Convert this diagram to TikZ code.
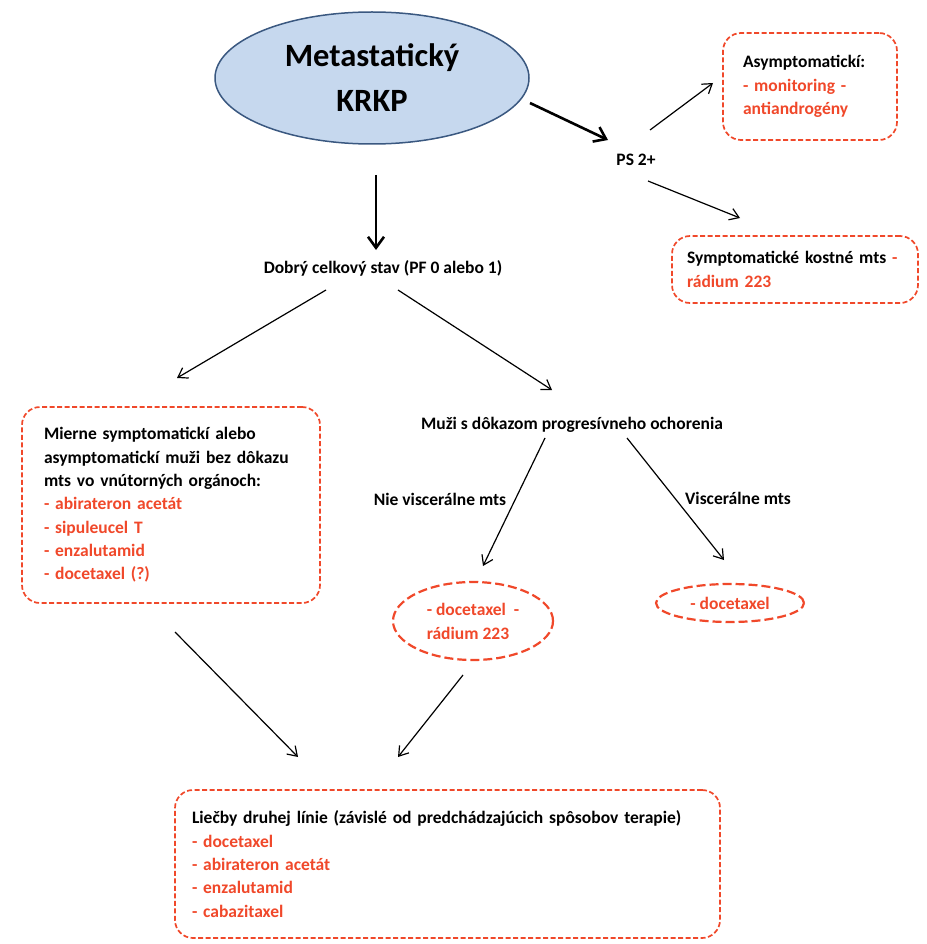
\documentclass[tikz,border=0pt]{standalone}
\usepackage{fontspec}
\setmainfont{Carlito}
\usetikzlibrary{shapes.geometric,arrows.meta,calc}
\definecolor{tred}{RGB}{240,72,42}
\definecolor{efill}{RGB}{198,216,238}
\definecolor{eline}{RGB}{58,88,128}
\begin{document}
\begin{tikzpicture}[x=1pt,y=-1pt,
  every node/.style={font=\fontsize{17.5}{23.3}\selectfont\bfseries, inner sep=0pt},
  rbox/.style={draw=tred, line width=1.7pt, dash pattern=on 5pt off 2.5pt, rounded corners=18pt, align=left},
  dbox/.style={draw=tred, line width=2.2pt, dash pattern=on 9pt off 4pt, ellipse, align=left},
  arr/.style={-{Straight Barb[length=9pt,width=12pt]}, line width=1.2pt},
  tarr/.style={-{Straight Barb[length=11pt,width=16pt]}, line width=2.6pt}]
\useasboundingbox (0,0) rectangle (926,944);
% nodes
\node[ellipse, draw=eline, fill=efill, line width=1.5pt, minimum width=314pt, minimum height=132pt, align=center,
  font=\fontsize{32.5}{45}\selectfont\bfseries] (krkp) at (372,78) {Metastatický\\KRKP};
\node (ps) at (636,160) {PS 2+};
\node[rbox, minimum width=174pt, minimum height=107pt, text width=134pt] (asym) at (810,86.5)
  {Asymptomatickí:\\\textcolor{tred}{- monitoring -}\\\textcolor{tred}{antiandrogény}};
\node[rbox, minimum width=246pt, minimum height=67pt, text width=216pt] (symp) at (795,269.5)
  {Symptomatické kostné mts \textcolor{tred}{-}\\\textcolor{tred}{rádium 223}};
\node (dobry) at (383,268) {Dobrý celkový stav (PF 0 alebo 1)};
\node[rbox, minimum width=298pt, minimum height=196pt, text width=254pt] (left) at (171,505)
  {Mierne symptomatickí alebo\\asymptomatickí muži bez dôkazu\\mts vo vnútorných orgánoch:\\
   \textcolor{tred}{- abirateron acetát}\\\textcolor{tred}{- sipuleucel T}\\\textcolor{tred}{- enzalutamid}\\\textcolor{tred}{- docetaxel (?)}};
\node (muzi) at (572,425) {Muži s dôkazom progresívneho ochorenia};
\node (nie) at (440,499) {Nie viscerálne mts};
\node (visc) at (738,498) {Viscerálne mts};
\node[dbox, minimum width=160pt, minimum height=78pt, font=\fontsize{17.5}{24}\selectfont\bfseries] (e1) at (473,621)
  {\textcolor{tred}{- docetaxel\ \ -}\\\textcolor{tred}{rádium 223}};
\node[dbox, minimum width=148pt, minimum height=38pt] (e2) at (730,603) {\textcolor{tred}{- docetaxel}};
\node[rbox, minimum width=545pt, minimum height=148pt, text width=511pt] (bottom) at (447.5,864)
  {Liečby druhej línie (závislé od predchádzajúcich spôsobov terapie)\\
   \textcolor{tred}{- docetaxel}\\\textcolor{tred}{- abirateron acetát}\\\textcolor{tred}{- enzalutamid}\\\textcolor{tred}{- cabazitaxel}};
% connectors
\draw[tarr] ($(krkp.center)+(158,25)$) -- ($(ps.center)+(-28,-20)$);
\draw[arr] ($(ps.center)+(14,-30)$) -- ($(asym.center)+(-97,-3.5)$);
\draw[arr] ($(ps.center)+(12,21)$) -- ($(symp.center)+(-55,-51.5)$);
\draw[tarr] ($(krkp.center)+(4,97)$) -- ($(dobry.center)+(-7,-18)$);
\draw[arr] ($(dobry.center)+(-57,22)$) -- ($(left.center)+(6,-127)$);
\draw[arr] ($(dobry.center)+(15,22)$) -- ($(muzi.center)+(-20,-35)$);
\draw[arr] ($(muzi.center)+(-27,13)$) -- ($(e1.center)+(10,-55)$);
\draw[arr] ($(muzi.center)+(55,13)$) -- ($(e2.center)+(-6,-43)$);
\draw[arr] ($(left.center)+(4,127)$) -- ($(bottom.center)+(-149.5,-107)$);
\draw[arr] ($(e1.center)+(-10,54)$) -- ($(bottom.center)+(-49.5,-107)$);
\end{tikzpicture}
\end{document}
